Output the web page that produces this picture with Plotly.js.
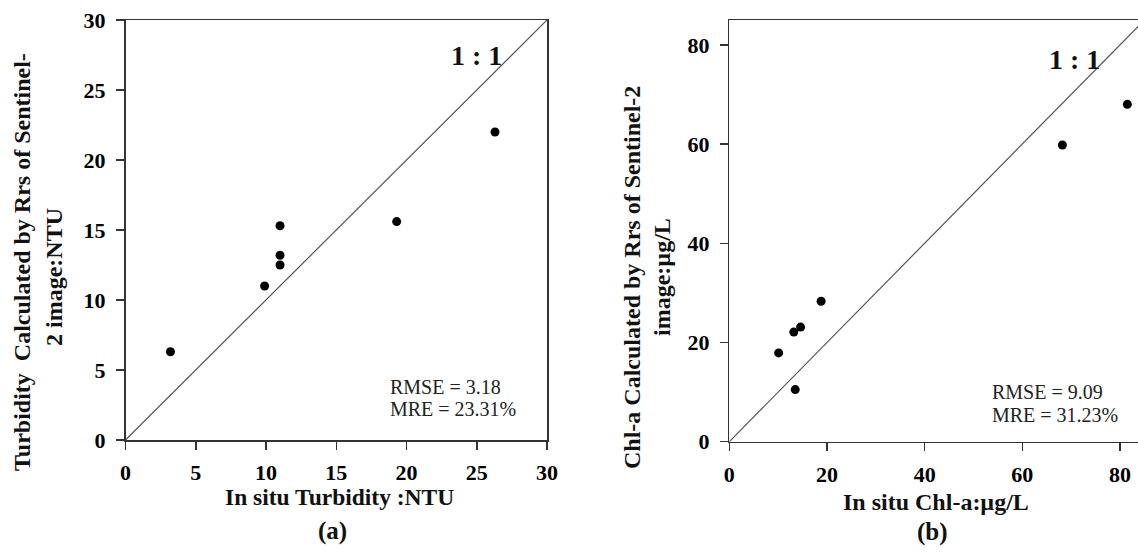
<!DOCTYPE html>
<html>
<head>
<meta charset="utf-8">
<script src="https://cdn.plot.ly/plotly-3.0.1.min.js"></script>
<style>html,body{margin:0;padding:0;background:#fff}#chart{width:1138px;height:553px}</style>
</head>
<body>
<div id="chart"></div>
<script>
// Panel (a): turbidity (NTU)
const turbInSitu = [3.2, 9.9, 11.0, 11.0, 11.0, 19.3, 26.3];
const turbCalc   = [6.3, 11.0, 15.3, 13.2, 12.5, 15.6, 22.0];
const turbLine   = [0, 30];
const turbTicks  = [0, 5, 10, 15, 20, 25, 30];
// Panel (b): Chl-a (µg/L)
const chlInSitu = [10.1, 13.2, 14.6, 18.8, 13.5, 68.2, 81.5];
const chlCalc   = [17.9, 22.1, 23.1, 28.3, 10.5, 59.8, 68.0];
const chlLine   = [0, 90];
const chlTicks  = [0, 20, 40, 60, 80];
const statsA = ["RMSE = 3.18", "MRE = 23.31%"];
const statsB = ["RMSE = 9.09", "MRE = 31.23%"];

const W = 1138, H = 553;
const px = v => v / W, py = v => 1 - v / H;
const serif = "Liberation Serif";
const ink = "#111";
const bold = arr => arr.map(v => "<b>" + v + "</b>");

const traces = [
  {x: turbLine, y: turbLine, mode: "lines", line: {color: "#555", width: 1.2}, xaxis: "x", yaxis: "y", hoverinfo: "skip"},
  {x: turbInSitu, y: turbCalc, mode: "markers", marker: {color: "#000", size: 9}, xaxis: "x", yaxis: "y"},
  {x: chlLine, y: chlLine, mode: "lines", line: {color: "#555", width: 1.2}, xaxis: "x2", yaxis: "y2", hoverinfo: "skip"},
  {x: chlInSitu, y: chlCalc, mode: "markers", marker: {color: "#000", size: 9}, xaxis: "x2", yaxis: "y2"}
];

const axBase = {
  showgrid: false, zeroline: false, showline: true, linecolor: "#333", linewidth: 1.5,
  ticks: "outside", ticklen: 8, tickwidth: 1.5, tickcolor: "#333",
  tickfont: {family: serif, size: 22, color: "#000", weight: 700}, fixedrange: true,
  tickmode: "array"
};
const xBase = Object.assign({}, axBase, {ticklabelstandoff: 4});
const yBase = Object.assign({}, axBase, {ticklabelstandoff: 6});

const layout = {
  width: W, height: H, showlegend: false,
  margin: {l: 0, r: 0, t: 0, b: 0},
  paper_bgcolor: "#fff", plot_bgcolor: "#fff",
  xaxis: Object.assign({}, xBase, {domain: [px(125.5), px(547)], range: [0, 30], tickvals: turbTicks, ticktext: bold(turbTicks), mirror: true, anchor: "y"}),
  yaxis: Object.assign({}, yBase, {domain: [py(440), py(20)], range: [0, 30], tickvals: turbTicks, ticktext: bold(turbTicks), mirror: true, anchor: "x"}),
  xaxis2: Object.assign({}, xBase, {domain: [px(729.3), 1], range: [0, (W - 729.3) / 4.884], tickvals: chlTicks, ticktext: bold(chlTicks), mirror: true, anchor: "y2"}),
  yaxis2: Object.assign({}, yBase, {domain: [py(441.7), py(20)], range: [0, 85], tickvals: chlTicks, ticktext: bold(chlTicks), mirror: false, anchor: "x2"}),
  annotations: [
    {text: "<b>1 : 1</b>", x: px(476), y: py(55), font: {family: serif, size: 28, color: ink}},
    {text: "<b>1 : 1</b>", x: px(1074), y: py(59), font: {family: serif, size: 28, color: ink}},
    {text: statsA[0], x: px(388), y: py(387), xanchor: "left", font: {family: serif, size: 20, color: "#222"}},
    {text: statsA[1], x: px(388), y: py(409), xanchor: "left", font: {family: serif, size: 20, color: "#222"}},
    {text: statsB[0], x: px(990), y: py(392), xanchor: "left", font: {family: serif, size: 20, color: "#222"}},
    {text: statsB[1], x: px(990), y: py(415), xanchor: "left", font: {family: serif, size: 20, color: "#222"}},
    {text: "<b>In situ Turbidity :NTU</b>", x: px(339), y: py(497), font: {family: serif, size: 23.5, color: ink}},
    {text: "<b>In situ Chl-a:µg/L</b>", x: px(936), y: py(502), font: {family: serif, size: 24, color: ink}},
    {text: "<b>Turbidity&nbsp; Calculated by Rrs of Sentinel-</b>", x: px(22), y: py(262), textangle: -90, font: {family: serif, size: 24, color: ink}},
    {text: "<b>2 image:NTU</b>", x: px(54), y: py(277), textangle: -90, font: {family: serif, size: 24, color: ink}},
    {text: "<b>Chl-a Calculated by Rrs of Sentinel-2</b>", x: px(632), y: py(278), textangle: -90, font: {family: serif, size: 24, color: ink}},
    {text: "<b>image:µg/L</b>", x: px(662), y: py(277), textangle: -90, font: {family: serif, size: 24, color: ink}},
    {text: "<b>(a)</b>", x: px(332), y: py(531), font: {family: serif, size: 25, color: ink}},
    {text: "<b>(b)</b>", x: px(932), y: py(532), font: {family: serif, size: 25, color: ink}}
  ].map(a => Object.assign({xref: "paper", yref: "paper", showarrow: false, xanchor: "center", yanchor: "middle"}, a))
};

Plotly.newPlot("chart", traces, layout, {displayModeBar: false, staticPlot: true});
</script>
</body>
</html>
